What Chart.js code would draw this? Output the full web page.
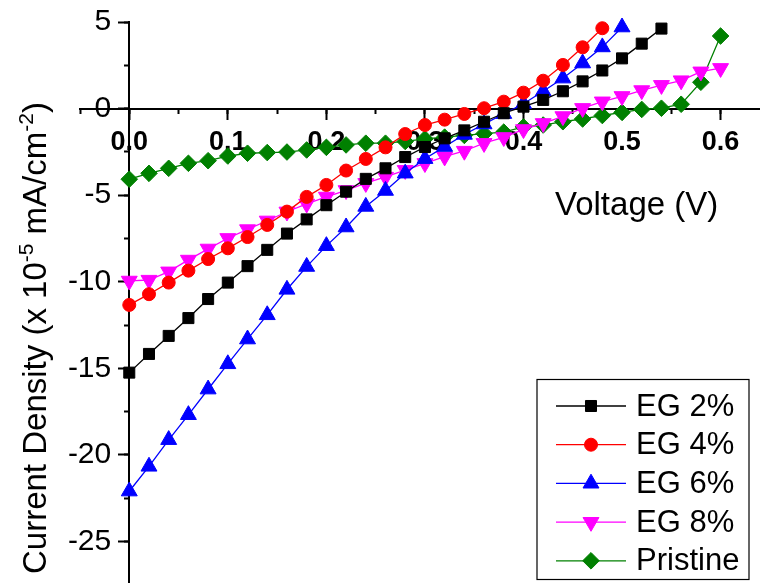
<!DOCTYPE html>
<html>
<head>
<meta charset="utf-8">
<script src="https://cdn.jsdelivr.net/npm/chart.js@4.4.1/dist/chart.umd.min.js"></script>
<style>
  html, body { margin: 0; padding: 0; background: #fff; }
  #wrap { width: 760px; height: 583px; }
</style>
</head>
<body>
<div id="wrap"><canvas id="jv" width="760" height="583"></canvas></div>
<script>
// voltage steps (V)
const voltage = [0, 0.02, 0.04, 0.06, 0.08, 0.1, 0.12, 0.14, 0.16, 0.18, 0.2, 0.22, 0.24, 0.26, 0.28,
                 0.3, 0.32, 0.34, 0.36, 0.38, 0.4, 0.42, 0.44, 0.46, 0.48, 0.5, 0.52, 0.54, 0.56, 0.58, 0.6]

// current density, x 10^-5 mA/cm^2
const eg2 = [-15.25, -14.17, -13.13, -12.1, -11.0, -10.05, -9.1, -8.16, -7.22, -6.4,
             -5.58, -4.8, -4.06, -3.45, -2.8, -2.22, -1.72, -1.26, -0.76, -0.27,
             0.11, 0.5, 1.0, 1.57, 2.2, 2.9, 3.75, 4.62]
const eg4 = [-11.34, -10.72, -10.05, -9.36, -8.69, -8.07, -7.42, -6.72, -5.95, -5.1,
             -4.41, -3.58, -2.91, -2.24, -1.47, -0.95, -0.64, -0.31, 0.02, 0.4,
             0.92, 1.61, 2.52, 3.54, 4.64]
const eg6 = [-22.1, -20.67, -19.13, -17.69, -16.21, -14.75, -13.32, -11.92, -10.45, -9.13,
             -7.93, -6.85, -5.66, -4.74, -3.74, -2.9, -2.2, -1.5, -0.9, -0.3,
             0.28, 1.0, 1.75, 2.62, 3.55, 4.7]
const eg8 = [-9.95, -9.9, -9.42, -8.74, -8.1, -7.49, -6.98, -6.48, -5.96, -5.5,
             -5.1, -4.72, -4.31, -3.95, -3.56, -3.16, -2.78, -2.45, -2.0, -1.66,
             -1.2, -0.85, -0.45, 0.02, 0.4, 0.71, 1.05, 1.35, 1.62, 2.13, 2.33]
const pristine = [-4.08, -3.74, -3.45, -3.16, -3.01, -2.74, -2.58, -2.54, -2.51, -2.39,
                  -2.24, -2.1, -2.0, -2.0, -1.9, -1.75, -1.65, -1.55, -1.45, -1.36,
                  -1.06, -0.95, -0.76, -0.6, -0.4, -0.22, -0.05, 0.02, 0.25, 1.52, 4.19]

const seriesNames = ['EG 2%', 'EG 4%', 'EG 6%', 'EG 8%', 'Pristine']
const xTickLabels = ['0.0', '0.1', '0.2', '0.3', '0.4', '0.5', '0.6']

const FONT = 'Arial, "Liberation Sans", sans-serif'

function pairs(ys) {
    return ys.map((y, i) => ({x: voltage[i], y: y}))
}

function series(label, ys, color, style, radius, rotation) {
    return {
        label: label,
        data: pairs(ys),
        borderColor: color,
        backgroundColor: color,
        borderWidth: 1.3,
        pointStyle: style,
        pointRadius: radius,
        pointRotation: rotation || 0,
        pointBorderWidth: 1,
        pointBackgroundColor: color,
        pointBorderColor: color,
        tension: 0,
        clip: false
    }
}

const datasets = [
    series(seriesNames[0], eg2, '#000000', 'rect', 7.8),
    series(seriesNames[1], eg4, '#ff0000', 'circle', 6.5),
    series(seriesNames[2], eg6, '#0000ff', 'triangle', 9.2),
    series(seriesNames[3], eg8, '#ff00ff', 'triangle', 9.2, 180),
    series(seriesNames[4], pristine, '#008000', 'rectRot', 8.3)
]

// axes crossing inside the plot must not eat layout space
function noSpace(s) {
    s.width = s.isHorizontal() ? s.width : 0
    s.height = s.isHorizontal() ? 0 : s.height
    s.paddingLeft = s.paddingRight = s.paddingTop = s.paddingBottom = 0
}

// axis titles + legend box, drawn on top of the plot
const decor = {
    id: 'decor',
    afterDraw(chart) {
        const ctx = chart.ctx
        ctx.save()
        ctx.fillStyle = '#000'

        // x title
        ctx.font = '33px ' + FONT
        ctx.textAlign = 'left'
        ctx.textBaseline = 'alphabetic'
        ctx.fillText('Voltage (V)', 555, 215)

        // y title, rotated, with superscripts
        ctx.save()
        ctx.translate(46, 574)
        ctx.rotate(-Math.PI / 2)
        const parts = [['Current Density (x 10', false], ['-5', true], [' mA/cm', false], ['-2', true], [')', false]]
        let pos = 0
        parts.forEach(([txt, sup]) => {
            ctx.font = (sup ? '21px ' : '33px ') + FONT
            ctx.fillText(txt, pos, sup ? -13 : 0)
            pos += ctx.measureText(txt).width
        })
        ctx.restore()

        // legend
        const box = {left: 537, top: 379.5, right: 749, bottom: 579.5}
        ctx.strokeStyle = '#000'
        ctx.lineWidth = 1.2
        ctx.strokeRect(box.left, box.top, box.right - box.left, box.bottom - box.top)
        ctx.font = '31px ' + FONT
        ctx.textBaseline = 'middle'
        chart.data.datasets.forEach((ds, i) => {
            const y = 406 + i * 38.7
            ctx.strokeStyle = ds.borderColor
            ctx.lineWidth = ds.borderWidth
            ctx.beginPath()
            ctx.moveTo(556, y)
            ctx.lineTo(626, y)
            ctx.stroke()
            ctx.fillStyle = ds.pointBackgroundColor
            ctx.strokeStyle = ds.pointBorderColor
            ctx.lineWidth = ds.pointBorderWidth
            Chart.helpers.drawPoint(ctx, {
                pointStyle: ds.pointStyle,
                radius: ds.pointRadius,
                rotation: ds.pointRotation,
                borderWidth: ds.pointBorderWidth
            }, 591, y)
            ctx.fillStyle = '#000'
            ctx.fillText(ds.label, 636, y + 1)
        })
        ctx.restore()
    }
}

const X_MIN = -0.05, X_MAX = 0.64
const Y_MIN = -27.4, Y_MAX = 5
const tickGrid = len => ({drawOnChartArea: false, tickColor: '#000', tickWidth: 2, tickLength: len})

new Chart(document.getElementById('jv'), {
    type: 'line',
    data: {datasets: datasets},
    options: {
        responsive: false,
        devicePixelRatio: 1,
        animation: false,
        layout: {autoPadding: false, padding: {left: 80, top: 22, right: 0, bottom: 0}},
        plugins: {legend: {display: false}, tooltip: {enabled: false}},
        scales: {
            x: {
                type: 'linear',
                min: X_MIN,
                max: X_MAX,
                position: {y: 0},
                afterFit: noSpace,
                border: {color: '#000', width: 2},
                grid: tickGrid(10),
                ticks: {
                    stepSize: 0.1,
                    includeBounds: false,
                    autoSkip: false,
                    maxRotation: 0,
                    padding: 8,
                    color: '#000',
                    font: {family: FONT, size: 27, weight: 'bold'},
                    callback: v => xTickLabels[Math.round(v * 10)]
                }
            },
            xMinor: {
                type: 'linear',
                axis: 'x',
                min: X_MIN,
                max: X_MAX,
                position: {y: 0},
                afterFit: noSpace,
                border: {display: false},
                grid: tickGrid(5),
                ticks: {stepSize: 0.05, includeBounds: false, autoSkip: false, display: false}
            },
            // axis line + major ticks at V = 0
            y: {
                type: 'linear',
                min: Y_MIN,
                max: Y_MAX,
                position: {x: 0},
                afterFit: noSpace,
                border: {color: '#000', width: 2},
                grid: tickGrid(10),
                ticks: {stepSize: 5, includeBounds: false, display: false}
            },
            yMinor: {
                type: 'linear',
                axis: 'y',
                min: Y_MIN,
                max: Y_MAX,
                position: {x: 0},
                afterFit: noSpace,
                border: {display: false},
                grid: tickGrid(5),
                ticks: {stepSize: 2.5, includeBounds: false, display: false}
            },
            // tick labels, right-aligned just left of the major ticks
            yLabels: {
                type: 'linear',
                axis: 'y',
                min: Y_MIN,
                max: Y_MAX,
                position: {x: -0.0183},
                afterFit: noSpace,
                border: {display: false},
                grid: {display: false, drawTicks: false},
                ticks: {
                    stepSize: 5,
                    includeBounds: false,
                    padding: 0,
                    color: '#000',
                    font: {family: FONT, size: 30},
                    callback: v => String(v)
                }
            }
        }
    },
    plugins: [decor]
})
</script>
</body>
</html>
